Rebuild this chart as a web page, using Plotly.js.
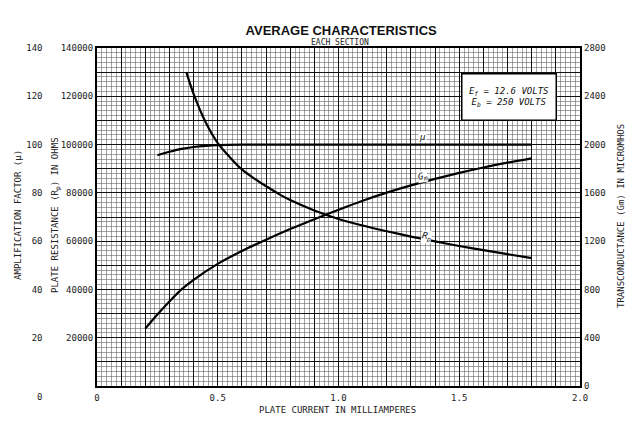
<!DOCTYPE html>
<html>
<head>
<meta charset="utf-8">
<script src="https://cdn.plot.ly/plotly-3.0.1.min.js"></script>
<style>
  html, body { margin: 0; padding: 0; background: #fff; }
  #chart { width: 640px; height: 428px; }
</style>
</head>
<body>
<div id="chart"></div>
<script>
// Readings taken off the curves, plate current in mA
var muCurrent = [0.25, 0.3, 0.35, 0.4, 0.45, 0.5, 0.6, 0.7, 0.8, 1.0, 1.2, 1.4, 1.6, 1.8];
var muValues = [95.6, 97.0, 98.2, 99.0, 99.5, 99.8, 100, 100, 100, 100, 100, 100, 100, 100];

var rpCurrent = [0.37, 0.4, 0.45, 0.5, 0.55, 0.6, 0.65, 0.7, 0.75, 0.8, 0.9, 1.0, 1.1, 1.2, 1.3, 1.4, 1.5, 1.6, 1.7, 1.8];
var rpValues = [130000, 121000, 109200, 100600, 94800, 89700, 86000, 82800, 79700, 77000, 72700, 69200, 66500, 64100, 61900, 59900, 58000, 56300, 54600, 53000];

var gmCurrent = [0.2, 0.25, 0.3, 0.35, 0.4, 0.5, 0.6, 0.7, 0.8, 0.9, 1.0, 1.1, 1.2, 1.3, 1.4, 1.5, 1.6, 1.7, 1.8];
var gmValues = [475, 592, 700, 800, 880, 1012, 1118, 1212, 1300, 1382, 1460, 1535, 1602, 1662, 1716, 1765, 1810, 1850, 1886];

// tick labels
var xLabelVals = [0, 0.5, 1.0, 1.5, 2.0];
var xLabels = ['0', '0.5', '1.0', '1.5', '2.0'];
var rpLabelVals = [20000, 40000, 60000, 80000, 100000, 120000, 140000];
var rpLabels = ['20000', '40000', '60000', '80000', '100000', '120000', '140000'];
var muLabelVals = [20, 40, 60, 80, 100, 120, 140];
var muLabels = ['20', '40', '60', '80', '100', '120', '140'];

// heavier grid every 0.1 mA / 10000 ohms, labels only where listed above
function gridTicks(step, count, labelVals, labels) {
  var vals = [], text = [];
  for (var i = 0; i <= count; i++) {
    var v = Math.round(i * step * 1000) / 1000;
    vals.push(v);
    var k = labelVals.indexOf(v);
    text.push(k >= 0 ? labels[k] : '');
  }
  return {vals: vals, text: text};
}
var xGrid = gridTicks(0.1, 20, xLabelVals, xLabels);
var yGrid = gridTicks(10000, 14, rpLabelVals, rpLabels);

var mono = 'DejaVu Sans Mono';
var tickFont = {family: mono, size: 9, color: '#222'};
var curveLine = {color: '#000', width: 2.2, shape: 'spline', smoothing: 0.8};

var muTrace = {x: muCurrent, y: muValues, yaxis: 'y2', type: 'scatter', mode: 'lines', line: curveLine, hoverinfo: 'skip'};
var rpTrace = {x: rpCurrent, y: rpValues, yaxis: 'y', type: 'scatter', mode: 'lines', line: curveLine, hoverinfo: 'skip'};
var gmTrace = {x: gmCurrent, y: gmValues, yaxis: 'y3', type: 'scatter', mode: 'lines', line: curveLine, hoverinfo: 'skip'};

// paper-positioned text, always centred on its point
function note(text, x, y, extra) {
  var a = {text: text, xref: 'paper', yref: 'paper', x: x, y: y, xanchor: 'center', yanchor: 'middle',
           showarrow: false, font: {family: mono, size: 9, color: '#222'}};
  for (var k in extra) a[k] = extra[k];
  return a;
}
function curveNote(text, yref, x, y, angle) {
  return {text: text, xref: 'x', yref: yref, x: x, y: y, xanchor: 'center', yanchor: 'middle',
          showarrow: false, bgcolor: '#fff', textangle: angle, borderpad: 0,
          font: {family: mono, size: 9, color: '#111'}};
}

var layout = {
  width: 640,
  height: 428,
  showlegend: false,
  paper_bgcolor: '#fff',
  plot_bgcolor: '#fff',
  margin: {l: 10, r: 60, t: 48, b: 42},
  title: {
    text: '<b>AVERAGE CHARACTERISTICS</b>',
    font: {family: 'Liberation Sans', size: 13, color: '#111'},
    x: 0.533, xanchor: 'center', y: 0.93, yanchor: 'middle'
  },
  xaxis: {
    domain: [0.1526, 1],
    range: [0, 2],
    tickmode: 'array',
    tickvals: xGrid.vals,
    ticktext: xGrid.text,
    ticks: '',
    ticklabelstandoff: 2,
    tickfont: tickFont,
    showgrid: true, gridcolor: '#111', gridwidth: 1,
    minor: {tick0: 0, dtick: 0.02, showgrid: true, gridcolor: '#666', gridwidth: 0.6},
    zeroline: false,
    showline: true, linecolor: '#000', linewidth: 2, mirror: true
  },
  yaxis: {
    range: [0, 140000],
    tickmode: 'array',
    tickvals: yGrid.vals,
    ticktext: yGrid.text,
    ticks: '',
    tickfont: tickFont,
    showgrid: true, gridcolor: '#111', gridwidth: 1,
    minor: {tick0: 0, dtick: 2000, showgrid: true, gridcolor: '#666', gridwidth: 0.6},
    zeroline: false,
    showline: true, linecolor: '#000', linewidth: 2, mirror: true
  },
  yaxis2: {
    overlaying: 'y',
    anchor: 'free',
    position: 0.057,
    side: 'left',
    range: [0, 140],
    tickmode: 'array',
    tickvals: muLabelVals,
    ticktext: muLabels,
    ticks: '',
    tickfont: tickFont,
    showgrid: false, zeroline: false, showline: false
  },
  yaxis3: {
    overlaying: 'y',
    anchor: 'x',
    side: 'right',
    range: [0, 2800],
    dtick: 400,
    ticks: '',
    ticklabelstandoff: 3,
    tickfont: tickFont,
    showgrid: false, zeroline: false, showline: false
  },
  annotations: [
    note('EACH SECTION', 0.579, 1.0148, {font: {family: mono, size: 8, color: '#222'}}),
    note('AMPLIFICATION FACTOR (μ)', 0.014, 0.506, {textangle: -90}),
    note('PLATE RESISTANCE (R<sub>p</sub>) IN OHMS', 0.0807, 0.506, {textangle: -90}),
    note('TRANSCONDUCTANCE (Gm) IN MICROMHOS', 1.072, 0.503, {textangle: -90}),
    note('PLATE CURRENT IN MILLIAMPERES', 0.575, -0.071),
    note('0', 0.0509, -0.0325),
    note('<i>E<sub>f</sub> = 12.6 VOLTS<br>E<sub>b</sub> = 250 VOLTS</i>', 0.8746, 0.8565,
         {width: 91, height: 43, borderpad: 1, align: 'center', bgcolor: '#fff',
          bordercolor: '#000', borderwidth: 1.5, font: {family: mono, size: 9, color: '#111'}}),
    curveNote('<i>μ</i>', 'y2', 1.346, 103.1, 0),
    curveNote('<i>G<sub>m</sub></i>', 'y3', 1.346, 1735, -10),
    curveNote('<i>R<sub>p</sub></i>', 'y', 1.366, 61900, 10)
  ]
};

Plotly.newPlot('chart', [muTrace, rpTrace, gmTrace], layout, {staticPlot: true, displayModeBar: false});
</script>
</body>
</html>
